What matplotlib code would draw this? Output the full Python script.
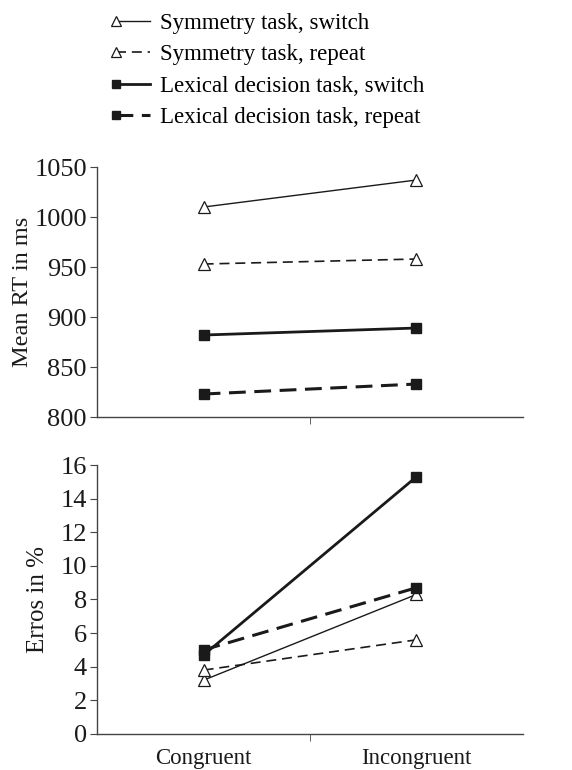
import numpy as np
import matplotlib
matplotlib.use('Agg')
import matplotlib.pyplot as plt
from matplotlib.legend_handler import HandlerLine2D

plt.rcParams['font.family'] = ['Liberation Serif', 'DejaVu Serif']

conditions = ['Congruent', 'Incongruent']
series_names = ['Symmetry task, switch', 'Symmetry task, repeat',
                'Lexical decision task, switch', 'Lexical decision task, repeat']

rt_sym_switch = [1010, 1037]
rt_sym_repeat = [953, 958]
rt_lex_switch = [882, 889]
rt_lex_repeat = [823, 833]

err_sym_switch = [3.2, 8.3]
err_sym_repeat = [3.8, 5.6]
err_lex_switch = [4.7, 15.3]
err_lex_repeat = [5.0, 8.7]

INK = '#1a1a1a'
styles = [
    dict(color=INK, lw=1.0, ls='-', marker='^', ms=9, mfc='white', mec=INK, mew=0.9),
    dict(color=INK, lw=1.2, ls=(0, (6, 3.5)), marker='^', ms=9, mfc='white', mec=INK, mew=0.9),
    dict(color=INK, lw=2.0, ls='-', marker='s', ms=7.5, mfc=INK, mec=INK),
    dict(color=INK, lw=2.2, ls=(0, (5.5, 2.8)), marker='s', ms=7.5, mfc=INK, mec=INK),
]


class LeftMarkerHandler(HandlerLine2D):
    # put the single legend marker at the left end of the line
    def create_artists(self, legend, orig_handle, xdescent, ydescent,
                       width, height, fontsize, trans):
        arts = super().create_artists(legend, orig_handle, xdescent, ydescent,
                                      width, height, fontsize, trans)
        for a in arts:
            a.set_markevery([0])
            a.set_markersize(orig_handle.get_markersize() * 0.8)
        return arts


fig = plt.figure(figsize=(5.72, 7.70), dpi=100)
ax1 = fig.add_axes([0.170, 0.4584, 0.744, 0.3247])
ax2 = fig.add_axes([0.170, 0.0468, 0.744, 0.3493])

x = np.array([0.5, 1.5])


def style_axis(ax):
    for s in ['top', 'right']:
        ax.spines[s].set_visible(False)
    for s in ['left', 'bottom']:
        ax.spines[s].set_color('#444444')
        ax.spines[s].set_linewidth(1.0)
    ax.set_xlim(0, 2)
    ax.set_xticks(x)
    ax.set_xticks([1.0], minor=True)
    ax.tick_params(axis='x', which='major', length=0, pad=10, labelsize=16.5, colors=INK)
    ax.tick_params(axis='x', which='minor', length=5, direction='out', color='#444444')
    ax.tick_params(axis='y', length=5, pad=2.5, direction='out', labelsize=19, colors=INK, color='#444444')


handles = []
for vals, st, name in zip([rt_sym_switch, rt_sym_repeat, rt_lex_switch, rt_lex_repeat], styles, series_names):
    h, = ax1.plot(x, vals, label=name, **st)
    handles.append(h)
style_axis(ax1)
ax1.set_ylim(800, 1050)
ax1.set_yticks(np.arange(800, 1051, 50))
ax1.set_xticklabels([])
ax1.set_ylabel('Mean RT in ms', fontsize=17.5, color=INK, labelpad=1)

for vals, st in zip([err_sym_switch, err_sym_repeat, err_lex_switch, err_lex_repeat], styles):
    ax2.plot(x, vals, **st)
style_axis(ax2)
ax2.set_ylim(0, 16)
ax2.set_yticks(np.arange(0, 17, 2))
ax2.set_xticklabels(conditions)
ax2.set_ylabel('Erros in %', fontsize=18, color=INK, labelpad=8)

fig.legend(handles=handles, labels=series_names, loc='upper left',
           bbox_to_anchor=(0.166, 1.01), frameon=False, fontsize=16.5,
           handlelength=1.5, handletextpad=0.45, labelspacing=0.45,
           handler_map={h: LeftMarkerHandler() for h in handles})

fig.savefig('out.png', dpi=100)
